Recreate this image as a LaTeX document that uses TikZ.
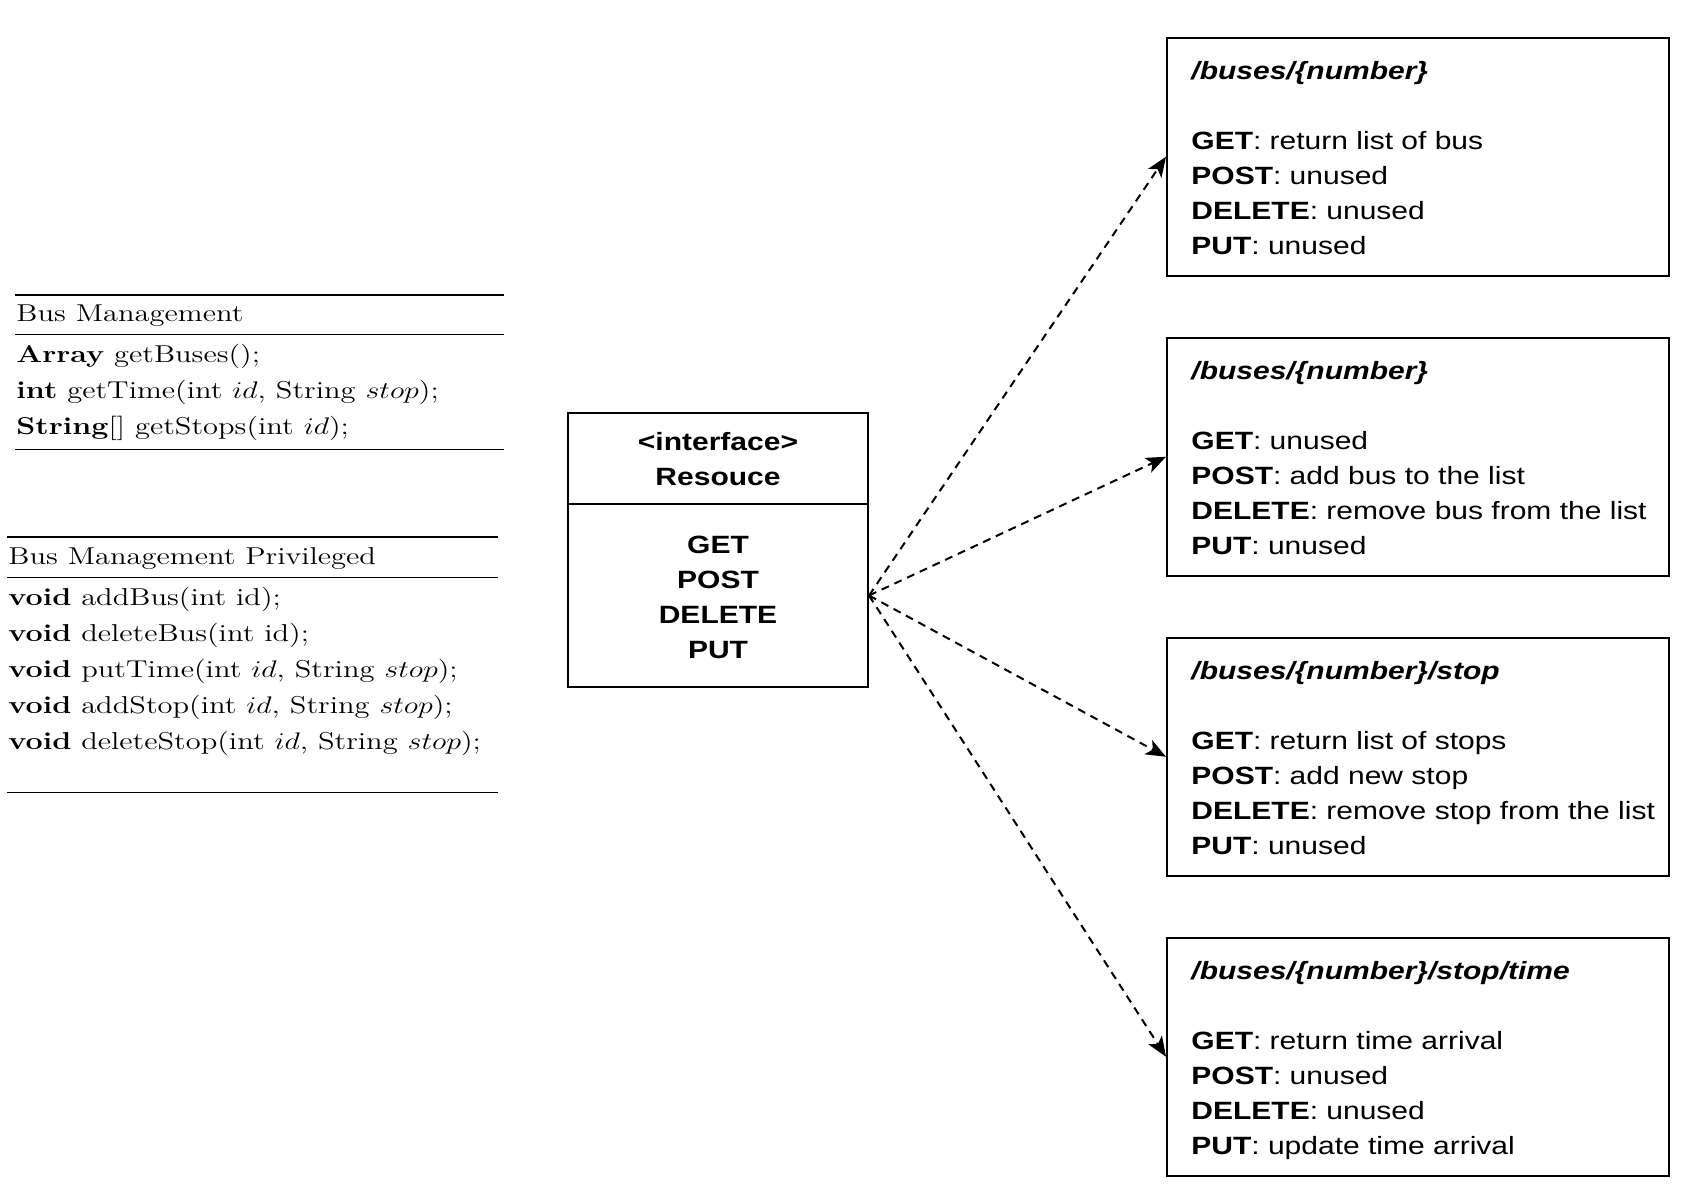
\documentclass[tikz,border=0pt]{standalone}
\usepackage{fontspec}
\usepackage{graphicx}
\usetikzlibrary{arrows.meta}
\newfontfamily\arialish{Liberation Sans}

% horizontally widened text, as in the rendered diagram
\newcommand\sfwide[1]{\scalebox{1.2}[1]{#1}}
\newcommand\rmwide[1]{\scalebox{1.25}[1]{#1}}

\tikzset{
  endpointbox/.style={draw, line width=1pt, minimum width=251pt, minimum height=118.75pt, inner sep=0pt},
  compartment/.style={draw, line width=1pt, minimum width=150pt, inner sep=0pt},
  sftext/.style={anchor=base west, inner sep=0pt, font=\arialish\fontsize{12.5}{17.5}\selectfont},
  rmtext/.style={anchor=base west, inner sep=0pt, font=\fontsize{12.2}{18}\selectfont},
  thinrule/.style={line width=0.5pt},
  flow/.style={line width=1pt, dash pattern=on 4pt off 3pt,
    -{Stealth[length=10pt, width=8pt, inset=2.5pt]}},
}

\begin{document}
\begin{tikzpicture}[x=0.5pt, y=-0.5pt]
  \path[use as bounding box, fill=white] (0,0) rectangle (1698,1190);

  % ---- Bus Management ----
  \draw[line width=0.85pt] (15,295) -- (504,295);
  \node[rmtext] (bmtitle) at (16,321) {\rmwide{Bus Management}};
  \draw[thinrule] (15,334) -- (504,334);
  \node[rmtext] (bmops) at (16,362) {\rmwide{\begin{tabular}[t]{@{}l@{}}
      \textbf{Array} getBuses();\\
      \textbf{int} getTime(int $id$, String $stop$);\\
      \textbf{String}[] getStops(int $id$);
    \end{tabular}}};
  \draw[thinrule] (15,449) -- (504,449);

  % ---- Bus Management Privileged ----
  \draw[line width=1.35pt] (7,537) -- (498,537);
  \node[rmtext] (bmptitle) at (8,564) {\rmwide{Bus Management Privileged}};
  \draw[thinrule] (7,577) -- (498,577);
  \node[rmtext] (bmpops) at (8,605) {\rmwide{\begin{tabular}[t]{@{}l@{}}
      \textbf{void} addBus(int id);\\
      \textbf{void} deleteBus(int id);\\
      \textbf{void} putTime(int $id$, String $stop$);\\
      \textbf{void} addStop(int $id$, String $stop$);\\
      \textbf{void} deleteStop(int $id$, String $stop$);
    \end{tabular}}};
  \draw[thinrule] (7,792) -- (498,792);

  % ---- Resource interface ----
  \node[compartment, minimum height=45.5pt] (reshead) at (718,458.5) {};
  \node[compartment, minimum height=91.5pt] (resbody) at (718,595.5) {};
  \node[sftext, anchor=base] (resname) at (718,450) {\sfwide{\begin{tabular}[t]{@{}c@{}}
      \textbf{<interface>}\\ \textbf{Resouce}
    \end{tabular}}};
  \node[sftext, anchor=base] (resverbs) at (718,553) {\sfwide{\begin{tabular}[t]{@{}c@{}}
      \textbf{GET}\\ \textbf{POST}\\ \textbf{DELETE}\\ \textbf{PUT}
    \end{tabular}}};

  % ---- Endpoints ----
  \node[endpointbox] (ep1) at (1418,156.75) {};
  \node[sftext] (ep1text) at (1191,79) {\sfwide{\begin{tabular}[t]{@{}l@{}}
      \textbf{\textit{/buses/\{number\}}}\\ \\
      \textbf{GET}: return list of bus\\
      \textbf{POST}: unused\\
      \textbf{DELETE}: unused\\
      \textbf{PUT}: unused
    \end{tabular}}};

  \node[endpointbox] (ep2) at (1418,456.75) {};
  \node[sftext] (ep2text) at (1191,379) {\sfwide{\begin{tabular}[t]{@{}l@{}}
      \textbf{\textit{/buses/\{number\}}}\\ \\
      \textbf{GET}: unused\\
      \textbf{POST}: add bus to the list\\
      \textbf{DELETE}: remove bus from the list\\
      \textbf{PUT}: unused
    \end{tabular}}};

  \node[endpointbox] (ep3) at (1418,756.75) {};
  \node[sftext] (ep3text) at (1191,679) {\sfwide{\begin{tabular}[t]{@{}l@{}}
      \textbf{\textit{/buses/\{number\}/stop}}\\ \\
      \textbf{GET}: return list of stops\\
      \textbf{POST}: add new stop\\
      \textbf{DELETE}: remove stop from the list\\
      \textbf{PUT}: unused
    \end{tabular}}};

  \node[endpointbox] (ep4) at (1418,1056.75) {};
  \node[sftext] (ep4text) at (1191,979) {\sfwide{\begin{tabular}[t]{@{}l@{}}
      \textbf{\textit{/buses/\{number\}/stop/time}}\\ \\
      \textbf{GET}: return time arrival\\
      \textbf{POST}: unused\\
      \textbf{DELETE}: unused\\
      \textbf{PUT}: update time arrival
    \end{tabular}}};

  % ---- Realisations ----
  \draw[flow] (resbody.east) -- (ep1.west);
  \draw[flow] (resbody.east) -- (ep2.west);
  \draw[flow] (resbody.east) -- (ep3.west);
  \draw[flow] (resbody.east) -- (ep4.west);
\end{tikzpicture}
\end{document}
